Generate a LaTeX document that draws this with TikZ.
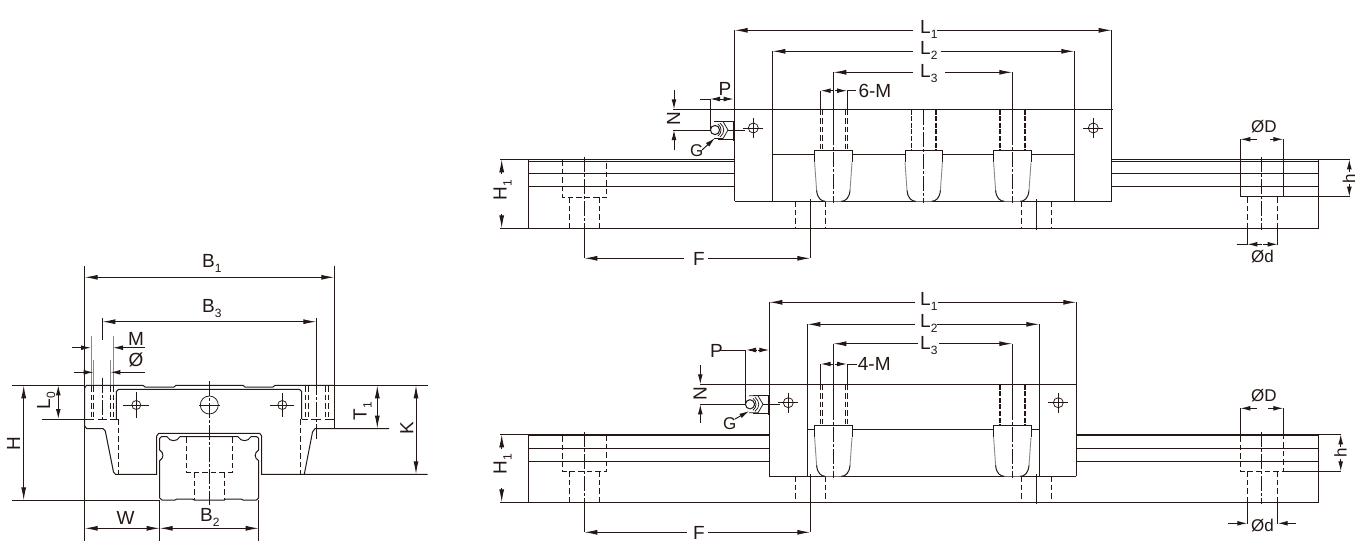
\documentclass[tikz,border=0pt]{standalone}
\usepackage{fontspec}
\setmainfont{Liberation Sans}
\usetikzlibrary{arrows.meta}
\definecolor{ink}{HTML}{231815}
\definecolor{soft}{HTML}{8C8886}
\newcommand\subs[1]{\raisebox{-5pt}{\fontsize{12}{12}\selectfont #1}}
\newcommand\crossmark[4]{% x y radius arm
  \draw[thinl] (#1,#2) circle[radius=#3pt];
  \draw[thinl] (#1-#4,#2) -- (#1+#4,#2) (#1,#2-#4) -- (#1,#2+#4);}
\newcommand\fitting[2]{% centre of nipple
  \begin{scope}[shift={(#1,#2)}]
  \draw[thinl] (3,-9) -- (18,-9) (3,9) -- (18,9);
  \draw[thinl,fill=white] (-1,-8.5) -- (8,-8.5) -- (13,0) -- (8,8.5) -- (-1,8.5);
  \draw[thinl] (5,-7) .. controls (10,-3) and (10,3) .. (5,7);
  \draw[thinl] (3,-6) .. controls (7,-3) and (7,3) .. (3,6);
  \draw[main] (18.3,-9) -- (18.3,11);
  \draw[main,fill=white] (0,0) circle[radius=4.6pt];
  \end{scope}}
\newcommand\sealblock[3]{% centre, top, bottom
  \fill[white] (#1-18.7,#2) -- (#1+18.7,#2) -- (#1+18.7,#2+12) -- (#1+16.5,#3-10) -- (#1+8,#3) -- (#1-8,#3) -- (#1-16.5,#3-10) -- (#1-18.7,#2+12) -- cycle;
  \draw[main] (#1-18.7,#2+12) -- (#1-18.7,#2) -- (#1+18.7,#2) -- (#1+18.7,#2+12);
  \draw[softl] (#1-18.7,#2+12) -- (#1-16.7,#3-11);
  \draw[softl] (#1+18.7,#2+12) -- (#1+16.7,#3-11);
  \draw[main] (#1-16.7,#3-11) .. controls (#1-16,#3-3) and (#1-12,#3) .. (#1-8,#3);
  \draw[main] (#1+16.7,#3-11) .. controls (#1+16,#3-3) and (#1+12,#3) .. (#1+8,#3);}
\tikzset{
  x=1pt,y=-1pt,
  main/.style={draw=ink,line width=1pt},
  thinl/.style={draw=ink,line width=0.75pt},
  softl/.style={draw=soft,line width=0.9pt},
  heavy/.style={draw=ink,line width=1.9pt},
  hid/.style={draw=ink,line width=0.9pt,dash pattern=on 5.5pt off 3pt},
  hidthick/.style={draw=ink,line width=1.6pt,dash pattern=on 5pt off 1.6pt},
  centerl/.style={draw=ink,line width=0.9pt,dash pattern=on 15pt off 2pt on 3pt off 2pt},
  dimtip/.style={draw=ink,line width=0.95pt,-{Latex[length=13pt,width=5pt]}},
  smalltip/.style={draw=ink,line width=0.95pt,-{Latex[length=10pt,width=4.8pt]}},
  lbl/.style={inner sep=0pt,text=ink,font=\fontsize{19}{19}\selectfont,anchor=base west},
  lblb/.style={lbl,font=\fontsize{17}{17}\selectfont},
  rotl/.style={lbl,rotate=90},
}
\begin{document}
\begin{tikzpicture}
\useasboundingbox (0,0) rectangle (1363,552);
%%%%%%%%%%% END VIEW (LEFT) %%%%%%%%%%%
% extension lines
\draw[main] (84.7,266) -- (84.7,540.5);
\draw[main] (334.3,266) -- (334.3,428);
\draw[main] (12,385.3) -- (84.7,385.3) (334.3,385.3) -- (427.7,385.3);
\draw[main] (12,500.3) -- (159.7,500.3);
\draw[main] (159.7,500) -- (159.7,540.5) (258.7,500) -- (258.7,540.5);
\draw[main] (102.3,318) -- (102.3,340);
\draw[main] (316.3,318) -- (316.3,380);
% body outline
\draw[main] (84.7,426) -- (84.7,388) -- (86.5,385.3) -- (143,385.3) -- (145,387) -- (174,387) -- (176,385.3) -- (243,385.3) -- (245,387) -- (273,387) -- (275,385.3) -- (334.3,385.3);
\draw[main] (84.7,426) -- (86.7,428.6) -- (103,428.6) -- (105.3,431) -- (113.5,472) -- (115.5,474.3) -- (156.7,474.3) -- (156.7,436) -- (158.7,433.3) -- (259.7,433.3) -- (261.7,436) -- (261.7,474.3) -- (427.7,474.3);
\draw[main] (304.3,474.3) -- (312.5,432) -- (315,428.6) -- (389,428.6);
\draw[main] (116.3,419) -- (116.3,391.5) -- (118.5,389.3) -- (299.5,389.3) -- (301.7,391.5) -- (301.7,419);
\draw[hid] (118.3,419) -- (118.3,474);
\draw[hid] (300.3,419) -- (300.3,474);
\draw[main] (42,419) -- (93.7,419) (110.3,419) -- (118.3,419) (301.7,419) -- (308.3,419) (325.3,419) -- (334.3,419);
\draw[main] (98,419) -- (107,419) (311,419) -- (321,419);
% screw holes
\foreach \hx in {91,93.7,110.3,113,305.7,308.3,325.3,328}{\draw[hid] (\hx,386) -- (\hx,419);}
\draw[centerl] (102.3,378) -- (102.3,422);
\draw[centerl] (316.3,380) -- (316.3,440);
\draw[centerl] (209.3,381) -- (209.3,505);
\crossmark{136.3}{405}{4.5}{13}
\crossmark{282.3}{405}{4.5}{12}
\draw[thinl] (209.3,405) circle[radius=9pt];
\draw[thinl] (199,405) -- (220,405);
% rail section
\draw[main] (159.7,438.3) -- (161.5,436.7) -- (167,436.7) .. controls (170,442) and (177,442) .. (180,436.7) -- (238,436.7) .. controls (241,442) and (248,442) .. (251,436.7) -- (256.7,436.7) -- (258.7,438.3) -- (258.7,450) .. controls (254,453) and (254,458) .. (258.7,460.7) -- (258.7,498) -- (256.5,500) -- (243,500) -- (241,499) -- (226,499) -- (224.3,500) -- (194.3,500) -- (192.3,499) -- (177,499) -- (175,500) -- (162,500) -- (159.7,498) -- (159.7,460.7) .. controls (164,458) and (164,453) .. (159.7,450) -- cycle;
\draw[hid] (186.3,437) -- (186.3,472) -- (232.3,472) -- (232.3,437);
\draw[hid] (194.3,472) -- (194.3,500);
\draw[hid] (224.3,472) -- (224.3,500);
% M and dia. lines
\draw[softl] (91,336) -- (91,385) (113,336) -- (113,385) (93.7,360) -- (93.7,385) (110.3,360) -- (110.3,385);
% dimensions
\draw[dimtip] (210,277.3) -- (84.7,277.3);
\draw[dimtip] (210,277.3) -- (334.3,277.3);
\draw[dimtip] (210,321.7) -- (102.3,321.7);
\draw[dimtip] (210,321.7) -- (316.3,321.7);
\draw[smalltip] (72,347.7) -- (91,347.7);
\draw[smalltip] (145,347.7) -- (113,347.7);
\draw[smalltip] (74,372.3) -- (93.7,372.3);
\draw[smalltip] (145,372.3) -- (110.3,372.3);
\draw[dimtip] (23.7,442) -- (23.7,385.3);
\draw[dimtip] (23.7,442) -- (23.7,500.3);
\draw[smalltip] (58.3,402) -- (58.3,385.3);
\draw[smalltip] (58.3,402) -- (58.3,419);
\draw[dimtip] (377.3,407) -- (377.3,385.3);
\draw[dimtip] (377.3,407) -- (377.3,428.6);
\draw[dimtip] (416,430) -- (416,385.3);
\draw[dimtip] (416,430) -- (416,474.3);
\draw[dimtip] (122,528.3) -- (84.7,528.3);
\draw[dimtip] (122,528.3) -- (159.7,528.3);
\draw[dimtip] (209,528.3) -- (159.7,528.3);
\draw[dimtip] (209,528.3) -- (258.7,528.3);
% labels
\node[lbl] (b1) at (202,267.3) {B\subs{1}};
\node[lbl] (b3) at (202,312.3) {B\subs{3}};
\node[lbl] (mm) at (128,345) {M};
\node[lbl] (oo) at (128.5,366.7) {Ø};
\node[lbl] (b2) at (200,521.7) {B\subs{2}};
\node[lbl] (ww) at (116.5,524) {W};
\node[rotl] (hh) at (20,451) {H};
\node[rotl] (l0) at (50,409.3) {L\subs{0}};
\node[rotl] (t1) at (366.7,420.5) {T\subs{1}};
\node[rotl] (kk) at (413.3,435) {K};
%%%%%%%%%%% TOP SIDE VIEW %%%%%%%%%%%
\draw[main] (734.7,30.3) -- (734.7,201.3) (772.3,51.3) -- (772.3,201.3);
\draw[main] (1111.7,30.3) -- (1111.7,201.3) (1074.3,51.3) -- (1074.3,201.3);
\draw[main] (833.3,72.3) -- (833.3,130);
\draw[main] (1012.3,72.3) -- (1012.3,130);
\draw[main] (673,109.3) -- (1112.5,109.3);
\draw[heavy] (734.7,109.5) -- (772.3,109.5);
\draw[main] (734.7,201.3) -- (1111.7,201.3);
\draw[main] (772.3,154.3) -- (1074.3,154.3);
% rail
\draw[main] (500,159.3) -- (734.7,159.3) (1111.7,159.3) -- (1350,159.3);
\draw[main] (528.3,161.7) -- (734.7,161.7) (1111.7,161.7) -- (1318.7,161.7);
\draw[main] (528.3,173.3) -- (734.7,173.3) (1111.7,173.3) -- (1318.7,173.3);
\draw[main] (528.3,186.3) -- (734.7,186.3) (1111.7,186.3) -- (1318.7,186.3);
\draw[main] (500,228.3) -- (1318.7,228.3);
\draw[main] (528.3,159.3) -- (528.3,228.3) (1318.7,159.3) -- (1318.7,228.3);
% rail holes
\draw[hid] (562.3,160) -- (562.3,197.3) -- (606.7,197.3) -- (606.7,160);
\draw[hid] (569.3,197.3) -- (569.3,228.3) (599.3,197.3) -- (599.3,228.3);
\draw[hid] (795.3,201.3) -- (795.3,228.3) (825.3,201.3) -- (825.3,228.3);
\draw[hid] (1021.3,201.3) -- (1021.3,228.3) (1051.3,201.3) -- (1051.3,228.3);
\draw[centerl] (584.3,157) -- (584.3,228.3);
\draw[main] (584.3,228.3) -- (584.3,258.3);
\draw[main] (810.3,199) -- (810.3,258.3);
\draw[main] (1036.3,199) -- (1036.3,230);
\draw[main] (1240.3,139.3) -- (1240.3,196.7) -- (1283.3,196.7) -- (1283.3,139.3);
\draw[main] (1283.3,196.7) -- (1350,196.7);
\draw[hid] (1247.3,197) -- (1247.3,228.3) (1277.7,197) -- (1277.7,228.3);
\draw[main] (1247.3,228.3) -- (1247.3,245) (1277.7,228.3) -- (1277.7,245);
\draw[centerl] (1261.3,157) -- (1261.3,230);
% threads + blocks
\foreach \hx in {820.7,822.7,845,847}{\draw[hid] (\hx,109.5) -- (\hx,150.3);}
\foreach \hx in {911.5,935.7,1000,1025}{\draw[hidthick] (\hx,109.5) -- (\hx,150.3);}
\sealblock{833.3}{150.3}{201.3}
\sealblock{923.7}{150.3}{201.3}
\sealblock{1012.3}{150.3}{201.3}
\draw[centerl] (833.3,130) -- (833.3,203.3);
\draw[centerl] (923.7,110) -- (923.7,203.3);
\draw[centerl] (1012.3,130) -- (1012.3,203.3);
\crossmark{753.3}{128}{5}{10}
\crossmark{1093.3}{128}{5}{10}
% grease fitting
\draw[main] (673,130) -- (745,130);
\draw[main] (710,99) -- (710,130);
\fitting{715}{130}
% dimensions
\draw[dimtip] (912.7,30.3) -- (734.7,30.3);
\draw[dimtip] (936.7,30.3) -- (1111.7,30.3);
\draw[dimtip] (912.7,51.3) -- (772.3,51.3);
\draw[dimtip] (940.7,51.3) -- (1074.3,51.3);
\draw[dimtip] (912.7,72.3) -- (833.3,72.3);
\draw[dimtip] (945,72.3) -- (1012.3,72.3);
\draw[main] (820.7,90.7) -- (820.7,109.3) (847,90.7) -- (847,109.3);
\draw[smalltip] (833.5,90.7) -- (820.7,90.7);
\draw[smalltip] (835,90.7) -- (847,90.7);
\draw[main] (847,90.7) -- (856,90.7);
\draw[main] (700,99) -- (710,99);
\draw[smalltip] (721.5,99) -- (710,99);
\draw[smalltip] (722,99) -- (733.7,99);
\draw[smalltip] (674,90) -- (674,109.3);
\draw[smalltip] (674,150) -- (674,130);
\draw[smalltip] (702,150) -- (715,138);
\draw[dimtip] (501.7,174) -- (501.7,159.3);
\draw[dimtip] (501.7,214) -- (501.7,228.3);
\draw[dimtip] (684,258.3) -- (584.3,258.3);
\draw[dimtip] (708,258.3) -- (810.3,258.3);
\draw[smalltip] (1257,139.3) -- (1240.3,139.3);
\draw[smalltip] (1270,139.3) -- (1283.3,139.3);
\draw[main] (1236.7,244.3) -- (1247.3,244.3);
\draw[smalltip] (1262,244.3) -- (1247.3,244.3);
\draw[smalltip] (1263,244.3) -- (1277.7,244.3);
\draw[smalltip] (1349.3,172) -- (1349.3,159.3);
\draw[smalltip] (1349.3,184) -- (1349.3,196.7);
% labels
\node[lbl] (tl1) at (920,33.3) {L\subs{1}};
\node[lbl] (tl2) at (920,54) {L\subs{2}};
\node[lbl] (tl3) at (920,77.3) {L\subs{3}};
\node[lbl] (t6m) at (858.3,97.3) {6-M};
\node[lbl] (tp) at (718.5,95) {P};
\node[lblb] (tg) at (690,156) {G};
\node[rotl] (tn) at (680,125.7) {N};
\node[rotl] (th1) at (506.7,200.7) {H\subs{1}};
\node[lbl] (tf) at (693,265) {F};
\node[lblb] (tdd) at (1251,132.7) {ØD};
\node[lblb] (tds) at (1251,262.7) {Ød};
\node[rotl,font=\fontsize{17}{17}\selectfont] (th) at (1355,183.3) {h};
%%%%%%%%%%% BOTTOM SIDE VIEW %%%%%%%%%%%
\draw[main] (769.3,302.3) -- (769.3,476.3) (807.3,324.3) -- (807.3,476.3);
\draw[main] (1076.3,302.3) -- (1076.3,476.3) (1039.3,324.3) -- (1039.3,476.3);
\draw[main] (833.3,343.7) -- (833.3,405);
\draw[main] (1012.3,343.7) -- (1012.3,405);
\draw[main] (700,384.3) -- (1077,384.3);
\draw[heavy] (769.3,384.5) -- (807.3,384.5);
\draw[main] (769.3,476.3) -- (1076.3,476.3);
\draw[main] (807.3,429.3) -- (1039.3,429.3);
% rail
\draw[main] (500,434.3) -- (528.3,434.3) (1318.7,434.3) -- (1340.7,434.3);
\draw[heavy] (528.3,435) -- (769.3,435) (1076.3,435) -- (1318.7,435);
\draw[main] (528.3,448.3) -- (769.3,448.3) (1076.3,448.3) -- (1318.7,448.3);
\draw[main] (528.3,461.3) -- (769.3,461.3) (1076.3,461.3) -- (1318.7,461.3);
\draw[main] (500,502.3) -- (1318.7,502.3);
\draw[main] (528.3,434.3) -- (528.3,502.3) (1318.7,434.3) -- (1318.7,502.3);
% rail holes
\draw[hid] (562.3,436) -- (562.3,471.3) -- (606.7,471.3) -- (606.7,436);
\draw[hid] (569.3,471.3) -- (569.3,502.3) (599.3,471.3) -- (599.3,502.3);
\draw[hid] (795.3,476.3) -- (795.3,502.3) (825.3,476.3) -- (825.3,502.3);
\draw[hid] (1021.3,476.3) -- (1021.3,502.3) (1051.3,476.3) -- (1051.3,502.3);
\draw[centerl] (584.3,432) -- (584.3,502.3);
\draw[main] (584.3,502.3) -- (584.3,532.3);
\draw[main] (810.3,474) -- (810.3,532.3);
\draw[main] (1036.3,474) -- (1036.3,504.3);
\draw[main] (1240.3,408.3) -- (1240.3,435) (1283.3,408.3) -- (1283.3,435);
\draw[hid] (1240.3,436) -- (1240.3,471.3) -- (1283.3,471.3) -- (1283.3,436);
\draw[main] (1283.3,471.3) -- (1340.7,471.3);
\draw[hid] (1247.3,471.3) -- (1247.3,502.3) (1277.7,471.3) -- (1277.7,502.3);
\draw[main] (1247.3,502.3) -- (1247.3,523.5) (1277.7,502.3) -- (1277.7,523.5);
\draw[centerl] (1261.3,432) -- (1261.3,504.3);
% threads + blocks
\foreach \hx in {820.7,822.7,845,847}{\draw[hid] (\hx,384.5) -- (\hx,425.3);}
\foreach \hx in {1000,1025}{\draw[hidthick] (\hx,384.5) -- (\hx,425.3);}
\sealblock{833.3}{425.3}{476.3}
\sealblock{1012.3}{425.3}{476.3}
\draw[centerl] (833.3,405) -- (833.3,478.3);
\draw[centerl] (1012.3,405) -- (1012.3,478.3);
\crossmark{788.3}{402.7}{5}{10}
\crossmark{1058.3}{402.7}{5}{10}
% grease fitting
\draw[main] (700,404.3) -- (780,404.3);
\draw[main] (745,350) -- (745,404.3);
\fitting{750}{404.3}
% dimensions
\draw[dimtip] (915,302.3) -- (769.3,302.3);
\draw[dimtip] (937.7,302.3) -- (1076.3,302.3);
\draw[dimtip] (915,324.3) -- (807.3,324.3);
\draw[dimtip] (936.7,324.3) -- (1039.3,324.3);
\draw[dimtip] (918,343.7) -- (833.3,343.7);
\draw[dimtip] (939,343.7) -- (1012.3,343.7);
\draw[main] (820.7,364) -- (820.7,384.3) (847,364) -- (847,384.3);
\draw[smalltip] (833.5,364) -- (820.7,364);
\draw[smalltip] (835,364) -- (847,364);
\draw[main] (847,364) -- (856.7,364);
\draw[main] (720,350) -- (745,350);
\draw[smalltip] (757,350) -- (746,350);
\draw[smalltip] (757.5,350) -- (769.3,350);
\draw[smalltip] (700.3,365) -- (700.3,384.3);
\draw[smalltip] (700.3,423) -- (700.3,404.3);
\draw[smalltip] (735,419) -- (749.3,411);
\draw[dimtip] (501.7,449) -- (501.7,434.3);
\draw[dimtip] (501.7,488) -- (501.7,502.3);
\draw[dimtip] (686.7,532.3) -- (584.3,532.3);
\draw[dimtip] (708,532.3) -- (810.3,532.3);
\draw[smalltip] (1257,408.3) -- (1240.3,408.3);
\draw[smalltip] (1268,408.3) -- (1283.3,408.3);
\draw[smalltip] (1228,523.3) -- (1247.3,523.3);
\draw[smalltip] (1296,523.3) -- (1277.7,523.3);
\draw[smalltip] (1340.7,447) -- (1340.7,434.3);
\draw[smalltip] (1340.7,459) -- (1340.7,471.3);
% labels
\node[lbl] (bl1) at (920,305) {L\subs{1}};
\node[lbl] (bl2) at (920,327.3) {L\subs{2}};
\node[lbl] (bl3) at (920,349) {L\subs{3}};
\node[lbl] (b4m) at (857.7,370.7) {4-M};
\node[lbl] (bp) at (710,357) {P};
\node[lblb] (bg) at (723,429.3) {G};
\node[rotl] (bn) at (706.7,400.7) {N};
\node[rotl] (bh1) at (506.7,474.3) {H\subs{1}};
\node[lbl] (bf) at (693,539.3) {F};
\node[lblb] (bdd) at (1251,401.7) {ØD};
\node[lblb] (bds) at (1251,531.7) {Ød};
\node[rotl,font=\fontsize{17}{17}\selectfont] (bh) at (1346.7,457.7) {h};
\end{tikzpicture}
\end{document}
